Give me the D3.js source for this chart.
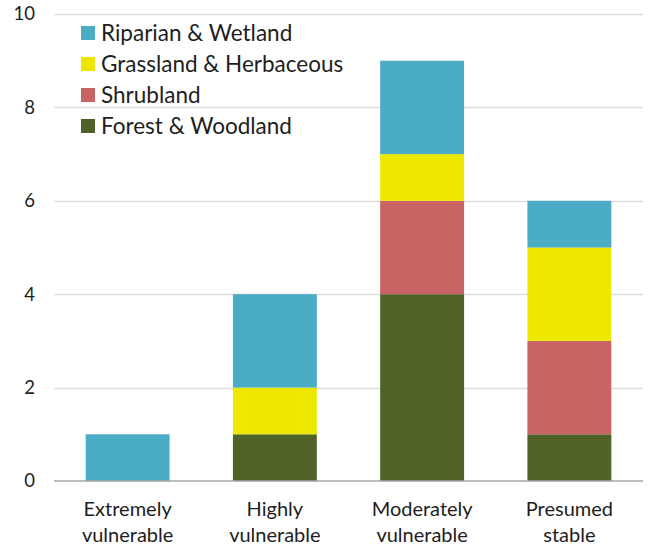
<!DOCTYPE html>
<html>
<head>
<meta charset="utf-8">
<script src="https://cdn.jsdelivr.net/npm/d3@7"></script>
<style>
body { margin: 0; background: #fff; }
text { font-family: Lato, "Open Sans", sans-serif; fill: #1e1e1e; }
</style>
</head>
<body>
<svg id="chart"></svg>
<script>
var width = 651;
var height = 548;

// data
var categories = ["Extremely vulnerable", "Highly vulnerable", "Moderately vulnerable", "Presumed stable"];
var seriesNames = ["Forest & Woodland", "Shrubland", "Grassland & Herbaceous", "Riparian & Wetland"];
var forest = [0, 1, 4, 1];
var shrub = [0, 0, 2, 2];
var grass = [0, 1, 1, 2];
var riparian = [1, 2, 2, 1];
var yTicks = [0, 2, 4, 6, 8, 10];

var colors = ["#4f6228", "#c86464", "#eee800", "#4bacc6"];

var rows = categories.map(function(c, i) {
    return { cat: c, forest: forest[i], shrub: shrub[i], grass: grass[i], riparian: riparian[i] };
});
var keys = ["forest", "shrub", "grass", "riparian"];

var margin = { left: 54, right: 8, top: 14, bottom: 67 };

var x = d3.scaleBand()
    .domain(categories)
    .range([margin.left, width - margin.right])
    .paddingInner(0.43)
    .paddingOuter(0.215);

var y = d3.scaleLinear()
    .domain([0, 10])
    .range([height - margin.bottom, margin.top]);

var chart = d3.select("#chart")
    .attr("width", width)
    .attr("height", height);

// gridlines
chart.append("g")
    .selectAll("line")
    .data(yTicks.slice(1))
  .enter().append("line")
    .attr("x1", margin.left)
    .attr("x2", width - margin.right)
    .attr("y1", function(d) { return Math.round(y(d)) + 0.5; })
    .attr("y2", function(d) { return Math.round(y(d)) + 0.5; })
    .attr("stroke", "#dedede")
    .attr("stroke-width", 1.3);

// y tick labels
chart.append("g")
    .selectAll("text")
    .data(yTicks)
  .enter().append("text")
    .attr("x", 35)
    .attr("y", function(d) { return y(d); })
    .attr("dy", "0.35em")
    .attr("text-anchor", "end")
    .style("font-size", "18.5px")
    .text(function(d) { return d; });

// stacked bars
var stack = d3.stack().keys(keys);
var layers = stack(rows);

chart.append("g")
    .selectAll("g")
    .data(layers)
  .enter().append("g")
    .attr("fill", function(d, i) { return colors[i]; })
    .selectAll("rect")
    .data(function(d) { return d; })
  .enter().append("rect")
    .attr("x", function(d) { return x(d.data.cat); })
    .attr("width", x.bandwidth())
    .attr("y", function(d) { return y(d[1]); })
    .attr("height", function(d) { return y(d[0]) - y(d[1]); });

// x axis line
chart.append("line")
    .attr("x1", margin.left)
    .attr("x2", width - margin.right)
    .attr("y1", y(0))
    .attr("y2", y(0))
    .attr("stroke", "#a6a6a6")
    .attr("stroke-width", 1.5);

// category labels (two lines)
var catLabel = chart.append("g")
    .selectAll("text")
    .data(categories)
  .enter().append("text")
    .attr("text-anchor", "middle")
    .style("font-size", "20px");

catLabel.each(function(d) {
    var words = d.split(" ");
    var t = d3.select(this);
    var cx = x(d) + x.bandwidth() / 2;
    t.append("tspan").attr("x", cx).attr("y", 516).text(words[0]);
    t.append("tspan").attr("x", cx).attr("y", 542).text(words[1]);
});

// legend, top entry is last series
var legend = chart.append("g")
    .selectAll("g")
    .data(seriesNames.slice().reverse())
  .enter().append("g")
    .attr("transform", function(d, i) { return "translate(81," + (33 + i * 31) + ")"; });

legend.append("rect")
    .attr("x", 0)
    .attr("y", -7)
    .attr("width", 14)
    .attr("height", 14)
    .attr("fill", function(d, i) { return colors[3 - i]; });

legend.append("text")
    .attr("x", 20)
    .attr("y", 0)
    .attr("dy", "0.35em")
    .style("font-size", "22.5px")
    .text(function(d) { return d; });
</script>
</body>
</html>
